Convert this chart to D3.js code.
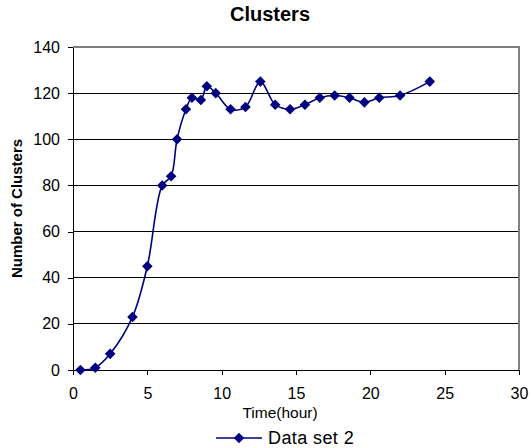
<!DOCTYPE html>
<html>
<head>
<meta charset="utf-8">
<script src="https://cdn.jsdelivr.net/npm/d3@7"></script>
<style>
  body { margin: 0; background: #fff; }
  svg text { font-family: "Liberation Sans", Arial, sans-serif; fill: #000; }
</style>
</head>
<body>
<svg id="chart"></svg>
<script>
// values
const hours = [0.5, 1.5, 2.5, 4, 5, 6, 6.6, 7, 7.6, 8, 8.6, 9, 9.6, 10.6, 11.6, 12.6,
  13.6, 14.6, 15.6, 16.6, 17.6, 18.6, 19.6, 20.6, 22, 24];
const clusters = [0, 1, 7, 23, 45, 80, 84, 100, 113, 118, 117, 123, 120, 113, 114, 125,
  115, 113, 115, 118, 119, 118, 116, 118, 119, 125];
const xTicks = [0, 5, 10, 15, 20, 25, 30];
const yTicks = [0, 20, 40, 60, 80, 100, 120, 140];
const seriesName = "Data set 2";

const width = 531, height = 448;
const margin = { top: 47, right: 12, bottom: 78, left: 73 };
const innerW = width - margin.left - margin.right;
const innerH = height - margin.top - margin.bottom;
const navy = "#000080";

const svg = d3.select("#chart").attr("width", width).attr("height", height);
const chart = svg.append("g").attr("transform", `translate(${margin.left},${margin.top})`);

const x = d3.scaleLinear().domain([0, 30]).range([0, innerW]);
const y = d3.scaleLinear().domain([0, 140]).range([innerH, 0]);

// horizontal gridlines (top one is part of the grey plot border)
chart.append("g")
  .selectAll("line")
  .data(yTicks.filter((d) => d > 0 && d < 140))
  .join("line")
  .attr("x1", 0).attr("x2", innerW)
  .attr("y1", (d) => y(d)).attr("y2", (d) => y(d))
  .attr("stroke", "#000").attr("stroke-width", 1)
  .attr("shape-rendering", "crispEdges");

// grey border on top and right
chart.append("path")
  .attr("d", `M0,${y(140)}H${innerW}V${innerH}`)
  .attr("fill", "none").attr("stroke", "#808080").attr("stroke-width", 2)
  .attr("shape-rendering", "crispEdges");

const xAxis = chart.append("g")
  .attr("transform", `translate(0,${innerH})`)
  .call(d3.axisBottom(x).tickValues(xTicks).tickSize(5).tickPadding(13).tickSizeOuter(0));
const yAxis = chart.append("g")
  .call(d3.axisLeft(y).tickValues(yTicks).tickSize(5).tickPadding(8).tickSizeOuter(0));

[xAxis, yAxis].forEach((g) => {
  g.select(".domain").attr("stroke", "#000").attr("shape-rendering", "crispEdges");
  g.selectAll(".tick line").attr("stroke", "#000").attr("shape-rendering", "crispEdges");
  g.selectAll(".tick text").attr("font-size", 16).attr("fill", "#000")
    .style("font-family", '"Liberation Sans", Arial, sans-serif');
});

const points = hours.map((h, i) => [h, clusters[i]]);

const line = d3.line()
  .x((d) => x(d[0]))
  .y((d) => y(d[1]))
  .curve(d3.curveCatmullRom.alpha(0.5));

chart.append("path")
  .datum(points)
  .attr("d", line)
  .attr("fill", "none")
  .attr("stroke", navy)
  .attr("stroke-width", 1.6);

const diamond = d3.symbol().type(d3.symbolSquare).size(56);
chart.append("g")
  .selectAll("path")
  .data(points)
  .join("path")
  .attr("d", diamond)
  .attr("transform", (d) => `translate(${x(d[0])},${y(d[1])}) rotate(45)`)
  .attr("fill", navy);

// titles
svg.append("text")
  .attr("x", 270).attr("y", 21)
  .attr("text-anchor", "middle")
  .attr("font-size", 20).attr("font-weight", "bold")
  .text("Clusters");

svg.append("text")
  .attr("transform", `translate(22,${margin.top + innerH / 2}) rotate(-90)`)
  .attr("text-anchor", "middle")
  .attr("font-size", 15).attr("font-weight", "bold")
  .text("Number of Clusters");

svg.append("text")
  .attr("x", 280).attr("y", 418)
  .attr("text-anchor", "middle")
  .attr("font-size", 15.5)
  .text("Time(hour)");

// legend
const legend = svg.append("g").attr("transform", "translate(216,438)");
legend.append("line")
  .attr("x1", 0).attr("x2", 46).attr("y1", 0).attr("y2", 0)
  .attr("stroke", navy).attr("stroke-width", 1.6);
legend.append("path")
  .attr("d", diamond)
  .attr("transform", "translate(23,0) rotate(45)")
  .attr("fill", navy);
legend.append("text")
  .attr("x", 52).attr("y", 6)
  .attr("font-size", 18)
  .attr("letter-spacing", 0.4)
  .text(seriesName);
</script>
</body>
</html>
